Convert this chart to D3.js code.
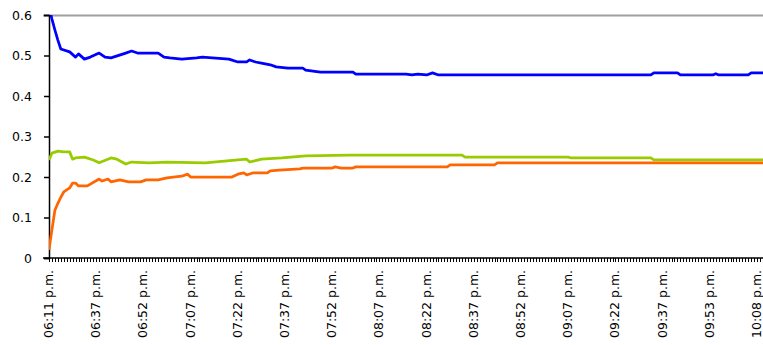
<!DOCTYPE html>
<html>
<head>
<meta charset="utf-8">
<script src="https://cdn.jsdelivr.net/npm/d3@7"></script>
<style>
  body { margin: 0; background: #fff; }
  #chart { position: relative; width: 763px; height: 345px; }
  svg { display: block; position: absolute; left: 0; top: 0; }
  .time-label {
    position: absolute;
    font-family: "DejaVu Sans", sans-serif;
    font-size: 12.5px;
    line-height: 14px;
    color: #000;
    white-space: nowrap;
    transform-origin: 0 0;
    transform: rotate(-90deg);
  }
</style>
</head>
<body>
<div id="chart"></div>
<script>
// category labels (one label every 16 categories)
const timeLabels = ["06:11 p.m.", "06:37 p.m.", "06:52 p.m.", "07:07 p.m.", "07:22 p.m.", "07:37 p.m.",
    "07:52 p.m.", "08:07 p.m.", "08:22 p.m.", "08:37 p.m.", "08:52 p.m.", "09:07 p.m.",
    "09:22 p.m.", "09:37 p.m.", "09:53 p.m.", "10:08 p.m."];
const categoryCount = 243;
const labelEvery = 16;
const yTicks = [0, 0.1, 0.2, 0.3, 0.4, 0.5, 0.6];

// [category index, value]
const blueSeries = [[0, 0.62], [1, 0.59], [2, 0.563], [3, 0.538], [4, 0.516], [7, 0.509], [9, 0.496],
    [10, 0.504], [12, 0.491], [14, 0.496], [17, 0.506], [19, 0.496], [21, 0.494], [26, 0.506],
    [28, 0.511], [30, 0.506], [37, 0.506], [39, 0.496], [41, 0.494], [45, 0.491], [50, 0.494],
    [52, 0.496], [61, 0.491], [64, 0.484], [67, 0.484], [68, 0.489], [70, 0.484], [72, 0.481],
    [75, 0.477], [77, 0.472], [81, 0.469], [86, 0.469], [87, 0.464], [92, 0.459], [103, 0.459],
    [104, 0.454], [121, 0.454], [123, 0.452], [125, 0.454], [128, 0.452], [130, 0.457], [132, 0.452],
    [204, 0.452], [205, 0.457], [213, 0.457], [214, 0.452], [225, 0.452], [226, 0.455], [227, 0.452],
    [237, 0.452], [238, 0.457], [242, 0.457]];

const greenSeries = [[0, 0.242], [1, 0.259], [3, 0.264], [5, 0.262], [7, 0.262], [8, 0.244], [9, 0.247],
    [12, 0.249], [15, 0.242], [17, 0.235], [21, 0.247], [23, 0.244], [26, 0.232], [28, 0.237],
    [34, 0.235], [40, 0.237], [53, 0.235], [64, 0.242], [67, 0.244], [68, 0.237], [72, 0.244],
    [79, 0.247], [87, 0.252], [102, 0.254], [140, 0.254], [141, 0.249], [176, 0.249], [177, 0.247],
    [204, 0.247], [205, 0.242], [242, 0.242]];

const orangeSeries = [[0, 0.02], [1, 0.07], [2, 0.118], [3, 0.135], [4, 0.15], [5, 0.163], [7, 0.173],
    [8, 0.185], [9, 0.185], [10, 0.178], [13, 0.178], [17, 0.195], [18, 0.19], [20, 0.195], [21, 0.188],
    [24, 0.193], [27, 0.188], [31, 0.188], [33, 0.193], [37, 0.193], [40, 0.198], [45, 0.202],
    [47, 0.207], [48, 0.2], [62, 0.2], [64, 0.207], [66, 0.21], [67, 0.205], [69, 0.21], [74, 0.21],
    [75, 0.215], [78, 0.217], [85, 0.22], [86, 0.222], [96, 0.222], [97, 0.225], [99, 0.222],
    [103, 0.222], [104, 0.225], [135, 0.225], [136, 0.23], [151, 0.23], [152, 0.235], [242, 0.235]];

const series = [
    { name: "blue", color: "#0000ff", values: blueSeries },
    { name: "green", color: "#99cc00", values: greenSeries },
    { name: "orange", color: "#ff6600", values: orangeSeries }
];

const width = 763, height = 345;
const plotLeft = 49, plotRight = 763, plotTop = 15, plotBottom = 258;

const svg = d3.select("#chart").append("svg")
    .attr("width", width)
    .attr("height", height);

const x = d3.scaleLinear().domain([0, categoryCount - 1]).range([plotLeft, plotRight]);
const y = d3.scaleLinear().domain([0, 0.6]).range([plotBottom, plotTop]);

svg.append("defs").append("clipPath").attr("id", "plot")
    .append("rect")
    .attr("x", plotLeft).attr("y", plotTop)
    .attr("width", plotRight - plotLeft).attr("height", plotBottom - plotTop);

// top border
svg.append("line")
    .attr("x1", plotLeft - 6).attr("x2", plotRight)
    .attr("y1", plotTop + 0.5).attr("y2", plotTop + 0.5)
    .attr("stroke", "#a0a0a0")
    .attr("stroke-width", 2);

// y axis
const yAxis = svg.append("g")
    .attr("transform", `translate(${plotLeft},0)`)
    .call(d3.axisLeft(y).tickValues(yTicks).tickSize(5).tickPadding(12)
        .tickFormat(d => d === 0 ? "0" : d.toFixed(1)));
yAxis.select(".domain").attr("stroke", "#000").attr("stroke-width", 1.5);
yAxis.selectAll(".tick line").attr("stroke", "#000").attr("stroke-width", 1.5);
yAxis.selectAll("text")
    .style("font-family", "DejaVu Sans, sans-serif")
    .style("font-size", "12.5px")
    .attr("fill", "#000");

// x axis line and one tick per category
svg.append("line")
    .attr("x1", plotLeft - 6).attr("x2", plotRight)
    .attr("y1", plotBottom).attr("y2", plotBottom)
    .attr("stroke", "#000")
    .attr("stroke-width", 1.5);

svg.append("g")
    .selectAll("line")
    .data(d3.range(categoryCount))
    .enter()
    .append("line")
    .attr("x1", d => Math.round(x(d)) + 0.5)
    .attr("x2", d => Math.round(x(d)) + 0.5)
    .attr("y1", plotBottom)
    .attr("y2", plotBottom + 4)
    .attr("stroke", "#000")
    .attr("stroke-width", 1);

// rotated time labels (HTML, rotated with CSS)
d3.select("#chart")
    .selectAll("div.time-label")
    .data(timeLabels)
    .enter()
    .append("div")
    .attr("class", "time-label")
    .style("left", (d, i) => (x(i * labelEvery) - 7) + "px")
    .style("top", "338px")
    .text(d => d);

const line = d3.line()
    .x(d => x(d[0]))
    .y(d => y(d[1]));

svg.append("g")
    .attr("clip-path", "url(#plot)")
    .selectAll("path")
    .data(series)
    .enter()
    .append("path")
    .attr("d", d => line(d.values))
    .attr("fill", "none")
    .attr("stroke", d => d.color)
    .attr("stroke-width", 2.75)
    .attr("stroke-linejoin", "round");
</script>
</body>
</html>
